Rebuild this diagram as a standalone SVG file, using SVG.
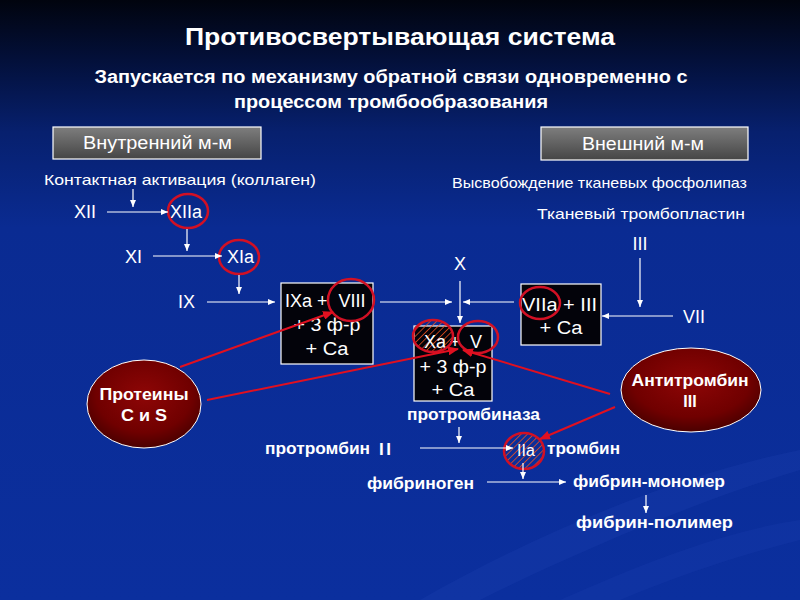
<svg xmlns="http://www.w3.org/2000/svg" width="800" height="600" viewBox="0 0 800 600">
<defs>
<linearGradient id="bg" x1="0" y1="0" x2="0" y2="1">
<stop offset="0" stop-color="#01040e"/>
<stop offset="0.1" stop-color="#03103a"/>
<stop offset="0.22" stop-color="#07206e"/>
<stop offset="0.38" stop-color="#0a2b92"/>
<stop offset="1" stop-color="#0b2f9e"/>
</linearGradient>
<linearGradient id="grey" x1="0" y1="0" x2="0" y2="1">
<stop offset="0" stop-color="#7e7e7e"/>
<stop offset="1" stop-color="#454545"/>
</linearGradient>
<radialGradient id="red" cx="0.5" cy="0.4" r="0.6">
<stop offset="0" stop-color="#8e0606"/>
<stop offset="0.7" stop-color="#700000"/>
<stop offset="1" stop-color="#4a0000"/>
</radialGradient>
<pattern id="hatch" width="4.5" height="4.5" patternUnits="userSpaceOnUse" patternTransform="rotate(45)">
<line x1="0" y1="0" x2="0" y2="4.5" stroke="#f0501e" stroke-width="1.5"/>
</pattern>
<marker id="aw" markerWidth="7" markerHeight="6" refX="7" refY="3" orient="auto" markerUnits="userSpaceOnUse">
<path d="M0,0 L7,3 L0,6 z" fill="#fff"/>
</marker>
<marker id="ar" markerWidth="11" markerHeight="9" refX="10" refY="4.5" orient="auto" markerUnits="userSpaceOnUse">
<path d="M0,0 L11,4.5 L0,9 z" fill="#e01020"/>
</marker>
<style>
text{font-family:"Liberation Sans",Arial,sans-serif;fill:#fff}
.t{font-size:15px}
.f{font-size:18px}
.b{font-weight:bold;font-size:16px}
.m{text-anchor:middle}
.wl{stroke:#fff;stroke-width:1.2;fill:none;marker-end:url(#aw)}
.rl{stroke:#e01020;stroke-width:2;fill:none;marker-end:url(#ar)}
.box{fill:#03030a;stroke:#fff;stroke-width:1.2}
.ring{fill:none;stroke:#d21024;stroke-width:2.5}
.gbox{fill:url(#grey);stroke:#fff;stroke-width:1.2}
.oval{fill:url(#red);stroke:#fff;stroke-width:1}
</style>
</defs>
<rect width="800" height="600" fill="url(#bg)"/>
<path d="M420,600 C560,520 700,470 800,450 L800,470 C700,500 580,550 480,600 z" fill="#3a5ad0" opacity="0.12"/>
<path d="M560,600 C650,560 730,530 800,520 L800,540 C740,555 680,575 620,600 z" fill="#3a5ad0" opacity="0.1"/>

<g id="title">
<text x="400" y="45" class="m" style="font-size:23px;font-weight:bold" textLength="430" lengthAdjust="spacingAndGlyphs">Противосвертывающая система</text>
<text x="391" y="83" class="m" style="font-size:18px;font-weight:bold" textLength="593" lengthAdjust="spacingAndGlyphs">Запускается по механизму обратной связи одновременно с</text>
<text x="391" y="108" class="m" style="font-size:18px;font-weight:bold" textLength="314" lengthAdjust="spacingAndGlyphs">процессом тромбообразования</text>
</g>

<g id="intrinsic">
<rect x="53" y="127" width="208" height="32" class="gbox"/>
<text x="83" y="149" style="font-size:17.5px" textLength="149" lengthAdjust="spacingAndGlyphs">Внутренний м-м</text>
</g>
<g id="extrinsic">
<rect x="541" y="127" width="207" height="33" class="gbox"/>
<text x="582" y="150" style="font-size:17.5px" textLength="122" lengthAdjust="spacingAndGlyphs">Внешний м-м</text>
</g>

<g id="contact"><text x="44" y="185" class="t" textLength="272" lengthAdjust="spacingAndGlyphs">Контактная активация (коллаген)</text></g>
<g id="release"><text x="452" y="188" class="t" textLength="295" lengthAdjust="spacingAndGlyphs">Высвобождение тканевых фосфолипаз</text></g>
<g id="tissue"><text x="537" y="219" class="t" textLength="208" lengthAdjust="spacingAndGlyphs">Тканевый тромбопластин</text></g>

<g id="XII"><text x="74" y="218" class="f">XII</text></g>
<g id="XIIa"><text x="170" y="218" class="f">XIIa</text><ellipse cx="188" cy="211" rx="20" ry="17" class="ring"/></g>
<g id="XI"><text x="125" y="263" class="f">XI</text></g>
<g id="XIa"><text x="227" y="263" class="f">XIa</text><ellipse cx="239" cy="257" rx="20" ry="17" class="ring"/></g>
<g id="IX"><text x="178" y="308" class="f">IX</text></g>
<g id="X"><text x="460" y="270" class="m f">X</text></g>
<g id="III"><text x="640" y="250" class="m f">III</text></g>
<g id="VII"><text x="683" y="323" class="f">VII</text></g>

<g id="IXa-box">
<rect x="281" y="283" width="92" height="81" class="box"/>
<text x="285" y="307" class="f">IXa +</text>
<text x="352" y="307" class="m f">VIII</text>
<text x="327" y="331" class="m f" textLength="67" lengthAdjust="spacingAndGlyphs">+ 3 ф-р</text>
<text x="327" y="355" class="m f" textLength="43" lengthAdjust="spacingAndGlyphs">+ Ca</text>
<ellipse cx="351" cy="300" rx="23" ry="21" class="ring"/>
</g>

<g id="VIIa-box">
<rect x="521" y="284" width="80" height="61" class="box"/>
<text x="522" y="311" class="f" textLength="75" lengthAdjust="spacingAndGlyphs">VIIa + III</text>
<text x="561" y="334" class="m f" textLength="43" lengthAdjust="spacingAndGlyphs">+ Ca</text>
<ellipse cx="540" cy="303" rx="20" ry="16" class="ring"/>
</g>

<g id="Xa-box">
<rect x="414" y="326" width="78" height="75" class="box"/>
<ellipse cx="433" cy="336" rx="20" ry="16" fill="url(#hatch)"/>
<text x="424" y="348" class="f">Xa</text>
<text x="455" y="348" class="m f">+</text>
<text x="470" y="348" class="f">V</text>
<text x="453" y="373" class="m f" textLength="67" lengthAdjust="spacingAndGlyphs">+ 3 ф-р</text>
<text x="453" y="396" class="m f" textLength="43" lengthAdjust="spacingAndGlyphs">+ Ca</text>
<ellipse cx="433" cy="336" rx="20" ry="16" class="ring"/>
<ellipse cx="478" cy="337" rx="20" ry="16" class="ring"/>
</g>

<g id="proteins">
<ellipse cx="144" cy="404" rx="57" ry="44" class="oval"/>
<text x="144" y="400" class="m b" textLength="89" lengthAdjust="spacingAndGlyphs">Протеины</text>
<text x="144" y="421" class="m b" textLength="46" lengthAdjust="spacingAndGlyphs">С и S</text>
</g>
<g id="antithrombin">
<ellipse cx="691" cy="390" rx="70" ry="42" class="oval"/>
<text x="690" y="386" class="m b" textLength="117" lengthAdjust="spacingAndGlyphs">Антитромбин</text>
<text x="690" y="407" class="m b">III</text>
</g>

<g id="prothrombinase"><text x="407" y="420" class="b" textLength="133" lengthAdjust="spacingAndGlyphs">протромбиназа</text></g>
<g id="prothrombin"><text x="265" y="454" class="b" textLength="105" lengthAdjust="spacingAndGlyphs">протромбин</text><text x="379" y="455" class="b" style="font-size:17px" textLength="12" lengthAdjust="spacing">II</text></g>
<g id="IIa">
<ellipse cx="524" cy="451" rx="20" ry="18" fill="url(#hatch)"/>
<text x="517" y="456" style="font-size:16px">IIa</text>
<ellipse cx="524" cy="451" rx="20" ry="18" class="ring"/>
</g>
<g id="thrombin"><text x="547" y="454" class="b" textLength="73" lengthAdjust="spacingAndGlyphs">тромбин</text></g>
<g id="fibrinogen"><text x="367" y="489" class="b" textLength="107" lengthAdjust="spacingAndGlyphs">фибриноген</text></g>
<g id="fibrin-monomer"><text x="573" y="487" class="b" textLength="152" lengthAdjust="spacingAndGlyphs">фибрин-мономер</text></g>
<g id="fibrin-polymer"><text x="576" y="528" class="b" textLength="157" lengthAdjust="spacingAndGlyphs">фибрин-полимер</text></g>

<g id="connectors">
<line x1="133" y1="189" x2="133" y2="207" class="wl"/>
<line x1="107" y1="212" x2="168" y2="212" class="wl"/>
<line x1="187" y1="229" x2="187" y2="251" class="wl"/>
<line x1="153" y1="256" x2="222" y2="256" class="wl"/>
<line x1="239" y1="275" x2="239" y2="294" class="wl"/>
<line x1="207" y1="302" x2="275" y2="302" class="wl"/>
<line x1="380" y1="302" x2="452" y2="302" class="wl"/>
<line x1="514" y1="302" x2="463" y2="302" class="wl"/>
<line x1="460" y1="281" x2="460" y2="323" class="wl"/>
<line x1="640" y1="258" x2="640" y2="307" class="wl"/>
<line x1="673" y1="316" x2="602" y2="316" class="wl"/>
<line x1="459" y1="427" x2="459" y2="443" class="wl"/>
<line x1="420" y1="448" x2="513" y2="448" class="wl"/>
<line x1="523" y1="463" x2="523" y2="479" class="wl"/>
<line x1="487" y1="482" x2="566" y2="482" class="wl"/>
<line x1="646" y1="495" x2="646" y2="513" class="wl"/>
<line x1="180" y1="367" x2="333" y2="312" class="rl"/>
<line x1="207" y1="400" x2="458" y2="349" class="rl"/>
<line x1="610" y1="394" x2="463" y2="350" class="rl"/>
<line x1="615" y1="407" x2="540" y2="439" class="rl"/>
</g>
</svg>
